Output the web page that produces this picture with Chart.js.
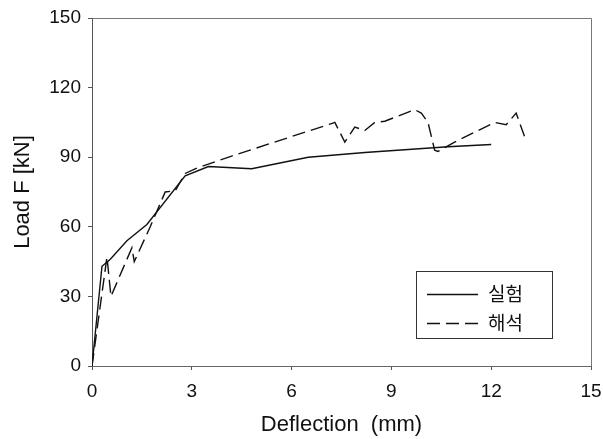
<!DOCTYPE html>
<html lang="ko">
<head>
  <meta charset="UTF-8" />
  <title>Load - Deflection</title>
  <script src="https://cdn.jsdelivr.net/npm/chart.js"></script>
  <style>
    html, body {
      margin: 0;
      padding: 0;
      background: #fff;
    }
    #wrap {
      width: 603px;
      height: 439px;
    }
  </style>
</head>
<body>
  <div id="wrap">
    <canvas id="chart" width="603" height="439"></canvas>
  </div>

  <script>
    // 실험 (test) curve
    const testX = [0, 0.3, 0.55, 1.05, 1.65, 2.8, 3.5, 4.8, 6.5, 8.2, 10.7, 12.0];
    const testY = [0, 43, 46, 54, 61, 82, 86, 85, 90, 92, 94.5, 95.5];

    // 해석 (analysis) curve
    const anaX = [0, 0.45, 0.57, 1.2, 1.27, 1.75, 2.2, 2.5, 2.8, 3.1, 3.7, 4.2, 7.2, 7.3, 7.6, 7.9, 8.2, 8.5, 8.8, 9.7, 9.9, 10.1, 10.3, 10.4, 10.9, 12.1, 12.45, 12.75, 13.0];
    const anaY = [0, 47, 30, 51, 45, 60, 75, 75.5, 83, 85, 88, 90.5, 104.5, 105, 96.5, 103, 101.5, 105, 105.5, 110.5, 109, 105, 93, 92.5, 96.5, 105, 104, 109, 99];

    const xTicks = [0, 3, 6, 9, 12, 15];
    const yTicks = [0, 30, 60, 90, 120, 150];
    const seriesNames = ['실험', '해석'];

    const toPts = (xs, ys) => xs.map((x, i) => ({ x: x, y: ys[i] }));
    const FONT = 'Liberation Sans, Arial, sans-serif';

    // 테두리와 범례
    const framePlugin = {
      id: 'frame',
      afterDraw(chart) {
        const c = chart.ctx;
        const a = chart.chartArea;
        c.save();
        c.strokeStyle = '#777';
        c.lineWidth = 1;
        c.beginPath();
        c.moveTo(a.left, a.top + 0.5);
        c.lineTo(a.right + 0.5, a.top + 0.5);
        c.lineTo(a.right + 0.5, a.bottom);
        c.stroke();

        // legend box
        const bx = 416, by = 271, bw = 136, bh = 67;
        c.strokeStyle = '#333';
        c.strokeRect(bx + 0.5, by + 0.5, bw, bh);
        c.font = '19px "Noto Sans CJK KR", sans-serif';
        c.fillStyle = '#111';
        c.textBaseline = 'middle';
        chart.data.datasets.forEach((ds, i) => {
          const ly = by + 23 + i * 29;
          c.strokeStyle = '#111';
          c.lineWidth = 1.3;
          c.setLineDash(ds.borderDash || []);
          c.beginPath();
          c.moveTo(427, ly + 0.5);
          c.lineTo(478, ly + 0.5);
          c.stroke();
          c.setLineDash([]);
          c.fillText(seriesNames[i], 488, ly);
        });
        c.restore();
      }
    };

    const ctx = document.getElementById('chart').getContext('2d');
    new Chart(ctx, {
      type: 'line',
      data: {
        datasets: [
          {
            label: seriesNames[0],
            data: toPts(testX, testY),
            borderColor: '#111',
            borderWidth: 1.4,
            pointRadius: 0,
            tension: 0,
            fill: false
          },
          {
            label: seriesNames[1],
            data: toPts(anaX, anaY),
            borderColor: '#111',
            borderWidth: 1.4,
            borderDash: [13, 6],
            pointRadius: 0,
            tension: 0,
            fill: false
          }
        ]
      },
      options: {
        responsive: false,
        animation: false,
        layout: { padding: { left: 0, right: 12, top: 18, bottom: 0 } },
        plugins: {
          legend: { display: false },
          tooltip: { enabled: false }
        },
        scales: {
          x: {
            type: 'linear',
            min: 0,
            max: 15,
            afterBuildTicks: s => { s.ticks = xTicks.map(v => ({ value: v })); },
            afterFit: s => { s.height = 73; s.paddingLeft = 0; s.paddingRight = 0; },
            grid: { display: true, drawOnChartArea: false, drawTicks: true, tickLength: 4, color: '#555' },
            border: { display: true, color: '#666', width: 1 },
            ticks: {
              color: '#111',
              font: { family: FONT, size: 19 },
              padding: 10,
              maxRotation: 0
            },
            title: {
              display: true,
              text: 'Deflection  (mm)',
              color: '#111',
              font: { family: FONT, size: 22 },
              padding: { top: 0, bottom: 1 }
            }
          },
          y: {
            type: 'linear',
            min: 0,
            max: 150,
            afterBuildTicks: s => { s.ticks = yTicks.map(v => ({ value: v })); },
            afterFit: s => { s.width = 92; s.paddingTop = 0; s.paddingBottom = 0; },
            grid: { display: true, drawOnChartArea: false, drawTicks: true, tickLength: 4, color: '#555' },
            border: { display: true, color: '#555', width: 1 },
            ticks: {
              color: '#111',
              font: { family: FONT, size: 19 },
              padding: 7
            },
            title: {
              display: true,
              text: 'Load F [kN]',
              color: '#111',
              font: { family: FONT, size: 22 },
              padding: { top: 10, bottom: 0 }
            }
          }
        }
      },
      plugins: [framePlugin]
    });
  </script>
</body>
</html>
